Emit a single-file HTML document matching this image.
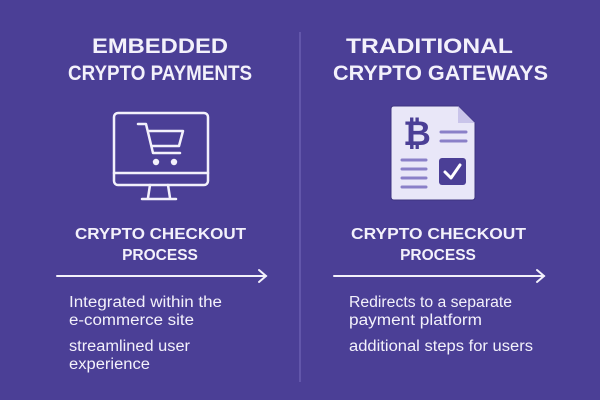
<!DOCTYPE html>
<html><head><style>
body{margin:0;width:600px;height:400px;background:#4b3f96;overflow:hidden;font-family:"Liberation Sans",sans-serif;}
</style></head><body>
<svg width="600" height="400" xmlns="http://www.w3.org/2000/svg" style="position:absolute;left:0;top:0">
<rect width="600" height="400" fill="#4b3f96"/>
<line x1="300" y1="32" x2="300" y2="382" stroke="#6a5fb0" stroke-width="1.5"/>
<g fill="#f3f1fb" font-family="Liberation Sans, sans-serif" font-weight="bold" lengthAdjust="spacingAndGlyphs">
<text x="92" y="53" font-size="21" textLength="136" lengthAdjust="spacingAndGlyphs">EMBEDDED</text>
<text x="68" y="80" font-size="21" textLength="184" lengthAdjust="spacingAndGlyphs">CRYPTO PAYMENTS</text>
<text x="346" y="53" font-size="21" textLength="167" lengthAdjust="spacingAndGlyphs">TRADITIONAL</text>
<text x="333" y="80" font-size="21" textLength="215" lengthAdjust="spacingAndGlyphs">CRYPTO GATEWAYS</text>
<text x="75" y="239" font-size="15.5" textLength="171" lengthAdjust="spacingAndGlyphs">CRYPTO CHECKOUT</text>
<text x="160" y="260" font-size="15.5" text-anchor="middle">PROCESS</text>
<text x="351" y="239" font-size="15.5" textLength="175" lengthAdjust="spacingAndGlyphs">CRYPTO CHECKOUT</text>
<text x="438" y="260" font-size="15.5" text-anchor="middle">PROCESS</text>
</g>
<!-- monitor -->
<g fill="none" stroke="#f3f1fb" stroke-width="2.5" stroke-linejoin="round" stroke-linecap="round">
<rect x="114" y="113" width="94" height="72" rx="4"/>
<line x1="114" y1="173" x2="208" y2="173"/>
<path d="M150 185 L148 198 M168 185 L170 198 M142 199 L176 199"/>
<path d="M138 124 L146 124 L153 153 L180 153 M148 131 L183 131 L179 146 L152 146"/>
</g>
<circle cx="156" cy="162" r="3.2" fill="#f3f1fb"/><circle cx="174" cy="162" r="3.2" fill="#f3f1fb"/>
<!-- document -->
<path d="M394 106 L458 106 L475 123 L475 197 Q475 200 472 200 L394 200 Q391 200 391 197 L391 109 Q391 106 394 106Z" fill="#e9e7f8" stroke="#3d3380" stroke-width="1"/>
<path d="M458 106 L458 123 L475 123Z" fill="#c9c4ea"/>
<text x="417" y="145" font-family="Liberation Sans, sans-serif" font-weight="bold" font-size="34" fill="#4b3f96" text-anchor="middle">₿</text>
<g stroke="#8a80c8" stroke-width="3" stroke-linecap="round">
<line x1="441" y1="132" x2="466" y2="132"/><line x1="441" y1="141" x2="466" y2="141"/>
<line x1="402" y1="160" x2="426" y2="160"/><line x1="402" y1="169" x2="426" y2="169"/>
<line x1="402" y1="178" x2="426" y2="178"/><line x1="402" y1="187" x2="426" y2="187"/>
</g>
<rect x="439" y="158" width="27" height="27" rx="3" fill="#4b3f96"/>
<path d="M445 172 L451 178 L460 165" fill="none" stroke="#fff" stroke-width="3" stroke-linecap="round" stroke-linejoin="round"/>
<!-- arrows -->
<g stroke="#f3f1fb" stroke-width="2" fill="none" stroke-linecap="round">
<line x1="57" y1="276" x2="266" y2="276"/><path d="M259 270 L266 276 L259 282"/>
<line x1="334" y1="276" x2="544" y2="276"/><path d="M537 270 L544 276 L537 282"/>
</g>
<g fill="#f3f1fb" font-family="Liberation Sans, sans-serif" font-size="15.5">
<text x="69" y="307" textLength="153" lengthAdjust="spacingAndGlyphs">Integrated within the</text>
<text x="69" y="325" textLength="125" lengthAdjust="spacingAndGlyphs">e-commerce site</text>
<text x="69" y="351" textLength="121" lengthAdjust="spacingAndGlyphs">streamlined user</text>
<text x="69" y="369" textLength="81" lengthAdjust="spacingAndGlyphs">experience</text>
<text x="349" y="307" textLength="163" lengthAdjust="spacingAndGlyphs">Redirects to a separate</text>
<text x="349" y="325" textLength="133" lengthAdjust="spacingAndGlyphs">payment platform</text>
<text x="349" y="351" textLength="184" lengthAdjust="spacingAndGlyphs">additional steps for users</text>
</g>
</svg>
</body></html>
